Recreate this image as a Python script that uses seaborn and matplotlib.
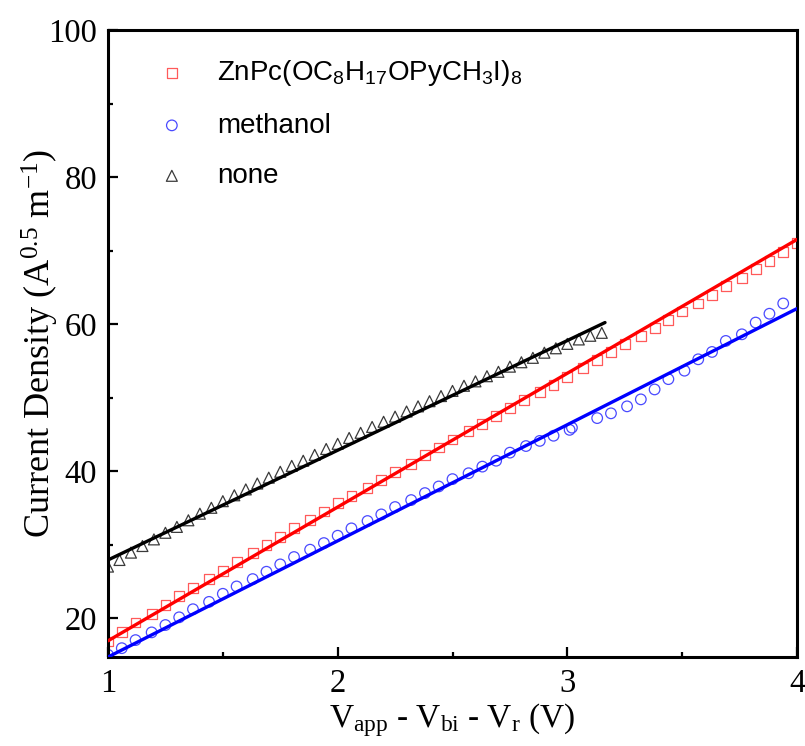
import matplotlib
matplotlib.use("Agg")
import matplotlib.pyplot as plt
from matplotlib.ticker import MultipleLocator
from matplotlib.font_manager import FontProperties
import pandas as pd
import seaborn as sns

# --- measured current density vs. effective field voltage ---
zn_v = [1.00, 1.06, 1.12, 1.19, 1.25, 1.31, 1.37, 1.44, 1.50, 1.56, 1.63, 1.69,
        1.75, 1.81, 1.88, 1.94, 2.00, 2.06, 2.13, 2.19, 2.25, 2.32, 2.38, 2.44,
        2.50, 2.57, 2.63, 2.69, 2.75, 2.81, 2.88, 2.94, 3.00, 3.07, 3.13, 3.19,
        3.25, 3.32, 3.38, 3.44, 3.50, 3.57, 3.63, 3.69, 3.76, 3.82, 3.88, 3.94, 4.00]
zn_j = [16.8, 18.1, 19.4, 20.6, 21.8, 23.0, 24.1, 25.3, 26.4, 27.6, 28.8, 29.9,
        31.0, 32.2, 33.3, 34.5, 35.6, 36.6, 37.7, 38.8, 39.9, 41.0, 42.2, 43.2,
        44.3, 45.4, 46.4, 47.5, 48.6, 49.7, 50.7, 51.7, 52.8, 54.0, 55.1, 56.2,
        57.3, 58.4, 59.5, 60.6, 61.7, 62.8, 64.0, 65.2, 66.3, 67.5, 68.6, 69.8, 71.0]

meoh_v = [1.00, 1.06, 1.12, 1.19, 1.25, 1.31, 1.37, 1.44, 1.50, 1.56, 1.63, 1.69,
          1.75, 1.81, 1.88, 1.94, 2.00, 2.06, 2.13, 2.19, 2.25, 2.32, 2.38, 2.44,
          2.50, 2.57, 2.63, 2.69, 2.75, 2.82, 2.88, 2.94, 3.01, 3.02, 3.13, 3.19,
          3.26, 3.32, 3.38, 3.44, 3.51, 3.57, 3.63, 3.69, 3.76, 3.82, 3.88, 3.94]
meoh_j = [15.0, 15.9, 17.0, 18.05, 19.05, 20.1, 21.2, 22.2, 23.3, 24.3, 25.3, 26.3,
          27.3, 28.3, 29.3, 30.2, 31.2, 32.2, 33.2, 34.1, 35.1, 36.05, 37.0, 37.9,
          38.9, 39.7, 40.6, 41.4, 42.5, 43.4, 44.1, 44.8, 45.6, 45.9, 47.2, 47.85,
          48.8, 49.75, 51.1, 52.5, 53.65, 55.2, 56.2, 57.7, 58.6, 60.2, 61.4, 62.8]

none_v = [1.00, 1.05, 1.10, 1.15, 1.20, 1.25, 1.30, 1.35, 1.40, 1.45, 1.50,
          1.55, 1.60, 1.65, 1.70, 1.75, 1.80, 1.85, 1.90, 1.95, 2.00, 2.05,
          2.10, 2.15, 2.20, 2.25, 2.30, 2.35, 2.40, 2.45, 2.50, 2.55, 2.60,
          2.65, 2.70, 2.75, 2.80, 2.85, 2.90, 2.95, 3.00, 3.05, 3.10, 3.15]
none_j = [27.0, 27.9, 28.9, 29.8, 30.7, 31.6, 32.4, 33.3, 34.2, 35.0, 35.9,
          36.7, 37.5, 38.3, 39.1, 39.9, 40.7, 41.4, 42.2, 43.0, 43.7, 44.5,
          45.2, 46.0, 46.7, 47.4, 48.1, 48.8, 49.5, 50.2, 50.9, 51.6, 52.2,
          52.9, 53.5, 54.2, 54.8, 55.4, 56.1, 56.7, 57.3, 57.9, 58.4, 58.8]

# --- linear fits (end points) ---
fit_v_full = [1.0, 4.0]
zn_fit = [16.9, 71.5]
meoh_fit = [14.7, 62.1]
fit_v_none = [1.0, 3.164]
none_fit = [27.9, 60.2]

labels = ["ZnPc(OC$_8$H$_{17}$OPyCH$_3$I)$_8$", "methanol", "none"]

sns.set_style("ticks")
plt.rcParams["font.family"] = ["Liberation Serif", "DejaVu Serif"]
plt.rcParams["mathtext.default"] = "regular"
plt.rcParams["text.color"] = "black"
plt.rcParams["axes.labelcolor"] = "black"
plt.rcParams["xtick.color"] = "black"
plt.rcParams["ytick.color"] = "black"

fig = plt.figure(figsize=(8.05, 7.46), dpi=100)
fig.subplots_adjust(left=108 / 805, right=797 / 805, top=1 - 30 / 746, bottom=1 - 657 / 746)
ax = fig.add_subplot(111)

series = [
    (zn_v, zn_j, "s", "#ff5a5a", 50, labels[0]),
    (meoh_v, meoh_j, "o", "#4a4aff", 58, labels[1]),
    (none_v, none_j, "^", "#3a3a3a", 62, labels[2]),
]
for v, j, mk, col, size, lab in series:
    df = pd.DataFrame({"v": v, "j": j})
    sns.scatterplot(data=df, x="v", y="j", marker=mk, s=size, facecolors="none",
                    edgecolors=col, linewidths=0.9, label=lab, ax=ax, zorder=2)

fits = [
    (fit_v_full, zn_fit, "red"),
    (fit_v_full, meoh_fit, "blue"),
    (fit_v_none, none_fit, "black"),
]
for v, j, col in fits:
    sns.lineplot(x=v, y=j, color=col, linewidth=2.4, ax=ax, legend=False, zorder=3,
                 label="_nolegend_")

ax.set_xlim(1, 4)
ax.set_ylim(14.7, 100)
ax.xaxis.set_major_locator(MultipleLocator(1))
ax.xaxis.set_minor_locator(MultipleLocator(0.5))
ax.yaxis.set_major_locator(MultipleLocator(20))
ax.yaxis.set_minor_locator(MultipleLocator(10))
ax.tick_params(which="both", direction="in", top=False, right=False, width=1.6,
               color="black", labelcolor="black")
ax.tick_params(which="major", length=7, labelsize=23.5, pad=8)
ax.tick_params(which="minor", length=3.8)
for sp in ax.spines.values():
    sp.set_linewidth(2.2)
    sp.set_color("black")

ax.set_xlabel("V$_{app}$ - V$_{bi}$ - V$_r$ (V)", fontsize=24, labelpad=2, color="black")
ax.set_ylabel("Current Density (A$^{0.5}$ m$^{-1}$)", fontsize=26, labelpad=-9,
              color="black")

leg_font = FontProperties(family=["Liberation Sans", "DejaVu Sans"], size=20)
leg = ax.legend(loc="upper left", bbox_to_anchor=(0.0604, 0.955), frameon=False,
                prop=leg_font, handlelength=1.6, handletextpad=0.84, labelspacing=0.88,
                borderpad=0, borderaxespad=0, scatterpoints=1)
for t in leg.get_texts():
    t.set_color("black")

fig.savefig("out.png", dpi=100)
